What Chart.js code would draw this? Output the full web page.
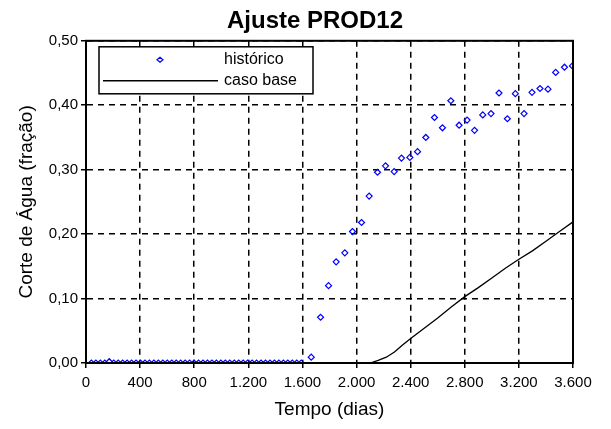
<!DOCTYPE html>
<html>
<head>
<meta charset="utf-8">
<script src="https://cdn.jsdelivr.net/npm/chart.js@4.4.1/dist/chart.umd.min.js"></script>
<style>
  html, body { margin: 0; padding: 0; background: #fff; }
  #grafico { display: block; }
</style>
</head>
<body>
<canvas id="grafico" width="611" height="429"></canvas>
<script>
// histórico (dias / corte de água)
const histDias = [40, 73, 106, 139, 172, 205, 238, 271, 304, 337, 370, 403, 436, 469, 502, 535,
    568, 601, 634, 667, 700, 733, 766, 799, 832, 865, 898, 931, 964, 997, 1030, 1063,
    1096, 1129, 1162, 1195, 1228, 1261, 1294, 1327, 1360, 1393, 1426, 1459, 1492, 1525, 1558, 1591,
    1665, 1734, 1793, 1849, 1913, 1970, 2037, 2093, 2155, 2214, 2278, 2332, 2394, 2451, 2512, 2576,
    2635, 2697, 2758, 2817, 2872, 2933, 2994, 3053, 3115, 3174, 3238, 3297, 3356, 3415, 3472, 3537, 3596];
const histCorte = [0, 0, 0, 0, 0.002, 0, 0, 0, 0, 0, 0, 0, 0, 0, 0, 0,
    0, 0, 0, 0, 0, 0, 0, 0, 0, 0, 0, 0, 0, 0, 0, 0,
    0, 0, 0, 0, 0, 0, 0, 0, 0, 0, 0, 0, 0, 0, 0, 0,
    0.009, 0.071, 0.120, 0.157, 0.171, 0.204, 0.218, 0.259, 0.296, 0.306, 0.297, 0.318, 0.319, 0.328, 0.350, 0.381,
    0.365, 0.407, 0.369, 0.377, 0.361, 0.385, 0.387, 0.419, 0.379, 0.418, 0.387, 0.420, 0.426, 0.425, 0.451, 0.459, 0.461];

// caso base
const baseDias = [2100, 2160, 2220, 2280, 2340, 2400, 2500, 2600, 2700, 2800, 2900, 3000, 3100, 3200, 3300, 3400, 3500, 3600];
const baseCorte = [0, 0.004, 0.009, 0.017, 0.028, 0.038, 0.054, 0.070, 0.087, 0.103, 0.117, 0.132, 0.147, 0.161, 0.174, 0.189, 0.204, 0.219];

const legendLabels = ['histórico', 'caso base'];
const xTicks = [0, 400, 800, 1200, 1600, 2000, 2400, 2800, 3200, 3600];
const yTicks = [0, 0.1, 0.2, 0.3, 0.4, 0.5];

const fonte = 'Liberation Sans, Arial, sans-serif';

function pares(xs, ys) {
    return xs.map(function(x, i) { return {x: x, y: ys[i]}; });
}

// moldura preta em volta da área do gráfico
const moldura = {
    id: 'moldura',
    afterDraw(chart) {
        const a = chart.chartArea, ctx = chart.ctx;
        ctx.save();
        ctx.strokeStyle = '#000';
        ctx.lineWidth = 2;
        ctx.strokeRect(a.left, a.top, a.right - a.left, a.bottom - a.top);
        ctx.restore();
    }
};

// legenda no estilo da figura original
const legenda = {
    id: 'legenda',
    afterDraw(chart) {
        const a = chart.chartArea, ctx = chart.ctx;
        const bx = a.left + 13, by = a.top + 6;
        ctx.save();
        ctx.fillStyle = '#fff';
        ctx.fillRect(bx, by, 214, 47);
        ctx.strokeStyle = '#000';
        ctx.lineWidth = 1.5;
        ctx.strokeRect(bx, by, 214, 47);
        // marcador
        const mx = bx + 61, my = by + 13;
        ctx.strokeStyle = '#0000ff';
        ctx.lineWidth = 1.2;
        ctx.beginPath();
        ctx.moveTo(mx - 3, my);
        ctx.lineTo(mx, my - 2.5);
        ctx.lineTo(mx + 3, my);
        ctx.lineTo(mx, my + 2.5);
        ctx.closePath();
        ctx.stroke();
        // linha
        ctx.strokeStyle = '#000';
        ctx.lineWidth = 1.5;
        ctx.beginPath();
        ctx.moveTo(bx + 4, by + 34);
        ctx.lineTo(bx + 119, by + 34);
        ctx.stroke();
        ctx.fillStyle = '#000';
        ctx.font = '16px ' + fonte;
        ctx.textBaseline = 'middle';
        ctx.fillText(legendLabels[0], bx + 125, my);
        ctx.fillText(legendLabels[1], bx + 125, by + 34);
        ctx.restore();
    }
};

const data = {
    datasets: [{
        label: legendLabels[0],
        data: pares(histDias, histCorte),
        showLine: false,
        pointStyle: 'rectRot',
        pointRadius: 3,
        pointBorderWidth: 1.2,
        pointBorderColor: '#0000ff',
        pointBackgroundColor: 'rgba(0,0,0,0)'
    }, {
        label: legendLabels[1],
        data: pares(baseDias, baseCorte),
        showLine: true,
        borderColor: '#000',
        borderWidth: 1.3,
        pointRadius: 0,
        tension: 0
    }]
};

const config = {
    type: 'scatter',
    data,
    options: {
        responsive: false,
        animation: false,
        devicePixelRatio: 1,
        layout: {
            padding: {left: 19, right: 0, top: 0, bottom: 0}
        },
        scales: {
            x: {
                type: 'linear',
                min: 0,
                max: 3600,
                afterBuildTicks: function(scale) {
                    scale.ticks = xTicks.map(function(v) { return {value: v}; });
                },
                afterFit: function(scale) {
                    scale.height = 66;
                    scale.paddingRight = 38;
                },
                ticks: {
                    color: '#000',
                    font: {family: fonte, size: 15},
                    padding: 6,
                    maxRotation: 0,
                    callback: function(v) {
                        return v.toLocaleString('pt-BR');
                    }
                },
                grid: {
                    color: '#000',
                    lineWidth: 1.5,
                    tickLength: 5,
                    tickColor: '#000',
                    tickWidth: 1.5
                },
                border: {
                    color: '#000',
                    width: 2,
                    dash: [6, 5]
                },
                title: {
                    display: true,
                    text: 'Tempo (dias)',
                    color: '#000',
                    font: {family: fonte, size: 19},
                    padding: {top: 0, bottom: 8}
                }
            },
            y: {
                type: 'linear',
                min: 0,
                max: 0.5,
                afterBuildTicks: function(scale) {
                    scale.ticks = yTicks.map(function(v) { return {value: v}; });
                },
                afterFit: function(scale) {
                    scale.width = 67;
                },
                ticks: {
                    color: '#000',
                    font: {family: fonte, size: 15},
                    padding: 3,
                    callback: function(v) {
                        return v.toFixed(2).replace('.', ',');
                    }
                },
                grid: {
                    color: '#000',
                    lineWidth: 1.5,
                    tickLength: 5,
                    tickColor: '#000',
                    tickWidth: 1.5
                },
                border: {
                    color: '#000',
                    width: 2,
                    dash: [6, 5]
                },
                title: {
                    display: true,
                    text: 'Corte de Água (fração)',
                    color: '#000',
                    font: {family: fonte, size: 19},
                    padding: {top: -4, bottom: 0}
                }
            }
        },
        plugins: {
            legend: {display: false},
            tooltip: {enabled: false},
            title: {
                display: true,
                text: 'Ajuste PROD12',
                color: '#000',
                font: {family: fonte, size: 24, weight: 'bold'},
                padding: {top: 7, bottom: 5}
            }
        }
    },
    plugins: [moldura, legenda]
};

const grafico = new Chart(document.getElementById('grafico'), config);
</script>
</body>
</html>
